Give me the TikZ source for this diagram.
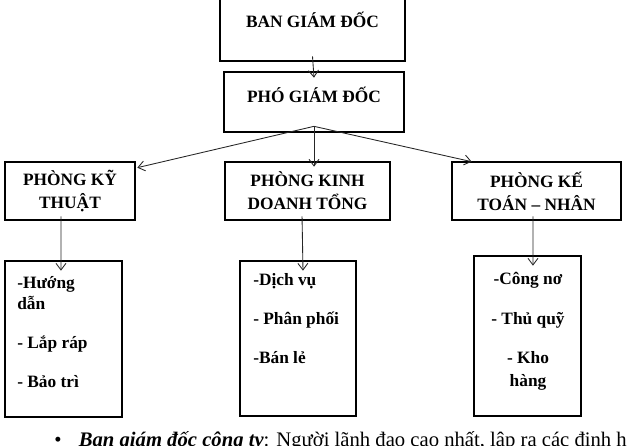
\documentclass[tikz,border=0pt]{standalone}
\usepackage{fontspec}
\setmainfont{Liberation Serif}
\usetikzlibrary{arrows.meta}
\begin{document}
\begin{tikzpicture}[x=0.75pt, y=-0.75pt,
		box/.style={draw, line width=2pt, inner sep=0pt},
		head/.style={font=\bfseries\fontsize{13}{17.25}\selectfont, align=center},
		list/.style={font=\bfseries\fontsize{13}{15.75}\selectfont, inner sep=0pt},
		arr/.style={-{Straight Barb[length=5pt,width=7.5pt]}, draw=black!85, line width=0.65pt}]
		\clip (0,0) rectangle (633,446);
		
		% Management
		\node[box, head, minimum width=138.75pt, minimum height=63.75pt, text height=14pt] (ban) at (312.5,18.5) {BAN GIÁM ĐỐC};
		\node[box, minimum width=135pt, minimum height=45pt, label={[head, yshift=5.25pt]center:PHÓ GIÁM ĐỐC}] (pho) at (314,102) {};
		
		% Departments
		\node[box, head, minimum width=97.5pt, minimum height=43.5pt] (ky) at (70,191) {PHÒNG KỸ\\THUẬT};
		\node[box, head, minimum width=123.75pt, minimum height=43.5pt] (kd) at (307.5,191) {PHÒNG KINH\\DOANH TỔNG};
		\node[box, head, minimum width=126.75pt, minimum height=43.5pt] (ketoan) at (536.5,191) {PHÒNG KẾ\\TOÁN – NHÂN};
		
		% Tasks (anchored at the last baseline)
		\node[box, minimum width=87.75pt, minimum height=117pt] (kyviec) at (63.5,339) {};
		\node[box, minimum width=87pt, minimum height=116.25pt] (kdviec) at (298,338.5) {};
		\node[box, minimum width=80.25pt, minimum height=120pt] (ketoanviec) at (527.5,336) {};
		\node[list, align=left, anchor=base west] (kytxt) at (17,387) {-Hướng\\dẫn\\[14pt]- Lắp ráp\\[13pt]- Bảo trì};
		\node[list, align=left, anchor=base west] (kdtxt) at (253,363) {-Dịch vụ\\[14pt]- Phân phối\\[13pt]-Bán lẻ};
		\node[list, align=center, anchor=base] (ketoantxt) at (528,386) {-Công nơ\\[14pt]- Thủ quỹ\\[13.5pt]- Kho\\[1.5pt]hàng};
		
		% Arrows
		\coordinate (fork) at ([yshift=5.25pt]pho.south);
		\coordinate (kdin) at ([yshift=-4.5pt]kd.north);
		\draw[arr] ([yshift=4.5pt]ban.south) -- ([yshift=-5.25pt]pho.north);
		\draw[arr] (fork) -- ([shift={(0.75pt,-5.25pt)}]ky.north east);
		\draw[arr] (fork) -- (fork |- kdin);
		\draw[arr] (fork) -- ([shift={(15.75pt,-0.75pt)}]ketoan.north west);
		\draw[arr] ([shift={(-6.75pt,3.75pt)}]ky.south) -- ([shift={(-1.9pt,-8.25pt)}]kyviec.north);
		\draw[arr] ([shift={(-4.1pt,3.75pt)}]kd.south) -- ([shift={(3.75pt,-8.25pt)}]kdviec.north);
		\draw[arr] ([shift={(-2.6pt,3.75pt)}]ketoan.south) -- ([shift={(4.1pt,-8.25pt)}]ketoanviec.north);
		
		% Note
		\node[anchor=base west, inner sep=0pt, font=\fontsize{15.5}{18}\selectfont] (note) at (54,446) {•\hspace{13pt}\textbf{\textit{Ban giám đốc công ty}}: Người lãnh đạo cao nhất, lập ra các định h};
	\end{tikzpicture}
\end{document}
